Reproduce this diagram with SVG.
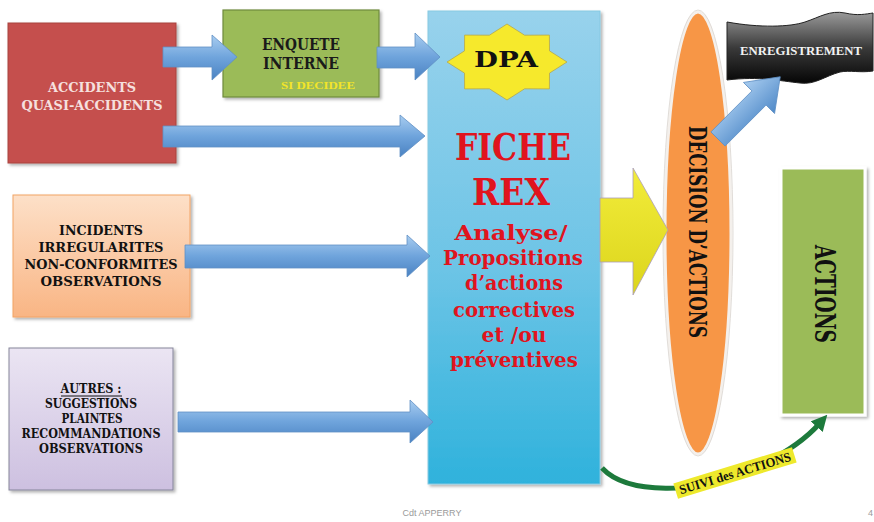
<svg xmlns="http://www.w3.org/2000/svg" width="874" height="522" viewBox="0 0 874 522">
<style>
.serif{font-family:"DejaVu Serif","Liberation Serif",serif;font-weight:bold;}
.tserif{font-family:"Liberation Serif","DejaVu Serif",serif;font-weight:bold;}
.c{text-anchor:middle;}
.barrow{fill:url(#gBlueArrow);stroke:#5f8fc4;stroke-width:0.8;}
.red{fill:#e0141e;}
</style>
<defs>
<linearGradient id="gBlueArrow" x1="0" y1="0" x2="0" y2="1">
<stop offset="0" stop-color="#a9cdf0"/>
<stop offset="0.5" stop-color="#6fa4dc"/>
<stop offset="1" stop-color="#4a82c2"/>
</linearGradient>
<linearGradient id="gBlueDiag" x1="0" y1="0" x2="0" y2="1">
<stop offset="0" stop-color="#a9cdf0"/>
<stop offset="1" stop-color="#4f89c8"/>
</linearGradient>
<linearGradient id="gFiche" x1="0" y1="0" x2="0" y2="1">
<stop offset="0" stop-color="#98d2ec"/>
<stop offset="0.55" stop-color="#6cc4e6"/>
<stop offset="1" stop-color="#2fb2dc"/>
</linearGradient>
<linearGradient id="gOrange" x1="0" y1="0" x2="0" y2="1">
<stop offset="0" stop-color="#fde0c8"/>
<stop offset="1" stop-color="#f9b584"/>
</linearGradient>
<linearGradient id="gPurple" x1="0" y1="0" x2="0" y2="1">
<stop offset="0" stop-color="#ebe5f3"/>
<stop offset="1" stop-color="#cdc0e0"/>
</linearGradient>
<linearGradient id="gYellow" x1="0" y1="0" x2="0" y2="1">
<stop offset="0" stop-color="#f2ec3a"/>
<stop offset="1" stop-color="#dcd51c"/>
</linearGradient>
<linearGradient id="gBanner" x1="0" y1="0" x2="0" y2="1">
<stop offset="0" stop-color="#9a9a9a"/>
<stop offset="0.5" stop-color="#3a3a3a"/>
<stop offset="1" stop-color="#050505"/>
</linearGradient>
<filter id="shadow" x="-10%" y="-10%" width="125%" height="125%">
<feDropShadow dx="2" dy="2" stdDeviation="1.5" flood-color="#000" flood-opacity="0.3"/>
</filter>
<marker id="greenHead" markerUnits="userSpaceOnUse" markerWidth="16" markerHeight="16" refX="5" refY="8" orient="auto">
<path d="M0,0 L16,8 L0,16 z" fill="#1d7a3c"/>
</marker>
</defs>

<rect width="874" height="522" fill="#ffffff"/>

<g id="fiche-rex">
<rect x="428" y="11" width="172" height="473" fill="url(#gFiche)" stroke="#86c9e2" stroke-width="1" filter="url(#shadow)"/>
<text class="serif c red" x="513" y="160" font-size="37" textLength="116" lengthAdjust="spacingAndGlyphs">FICHE</text>
<text class="serif c red" x="511" y="205" font-size="37" textLength="78" lengthAdjust="spacingAndGlyphs">REX</text>
<text class="serif c red" x="511" y="240" font-size="21" textLength="113" lengthAdjust="spacingAndGlyphs">Analyse/</text>
<text class="serif c red" x="513" y="265" font-size="21" textLength="140" lengthAdjust="spacingAndGlyphs">Propositions</text>
<text class="serif c red" x="514" y="290" font-size="21" textLength="98" lengthAdjust="spacingAndGlyphs">d’actions</text>
<text class="serif c red" x="514" y="317" font-size="21" textLength="122" lengthAdjust="spacingAndGlyphs">correctives</text>
<text class="serif c red" x="514" y="342" font-size="21" textLength="65" lengthAdjust="spacingAndGlyphs">et /ou</text>
<text class="serif c red" x="514" y="367" font-size="21" textLength="128" lengthAdjust="spacingAndGlyphs">préventives</text>
</g>

<g id="dpa">
<polygon points="567,62 549.5,73.1 549.4,88.9 524.6,88.8 507,100 489.4,88.8 464.6,88.9 464.5,73.1 447,62 464.5,50.9 464.6,35.1 489.4,35.2 507,24 524.6,35.2 549.4,35.1 549.5,50.9" fill="#f6e92c" stroke="#b8a84a" stroke-width="0.8"/>
<text class="serif c" x="506" y="67" font-size="23" fill="#111" textLength="64" lengthAdjust="spacingAndGlyphs">DPA</text>
</g>

<g id="accidents">
<rect x="8" y="23" width="168" height="140" fill="#c5504d" stroke="#a8423f" stroke-width="1" filter="url(#shadow)"/>
<text class="serif c" x="92" y="92" font-size="13.5" fill="#f6e0df" textLength="88" lengthAdjust="spacingAndGlyphs">ACCIDENTS</text>
<text class="serif c" x="92" y="110" font-size="13.5" fill="#f6e0df" textLength="141" lengthAdjust="spacingAndGlyphs">QUASI-ACCIDENTS</text>
</g>

<g id="enquete">
<rect x="223" y="10" width="156" height="87" fill="#9bbb59" stroke="#6f8a3c" stroke-width="1.2" filter="url(#shadow)"/>
<text class="serif c" x="301" y="50" font-size="16" fill="#1a1a1a" textLength="78" lengthAdjust="spacingAndGlyphs">ENQUETE</text>
<text class="serif c" x="301" y="69" font-size="16" fill="#1a1a1a" textLength="76" lengthAdjust="spacingAndGlyphs">INTERNE</text>
<text class="tserif c" x="318" y="89" font-size="11" fill="#f3e528" textLength="74" lengthAdjust="spacingAndGlyphs">SI DECIDEE</text>
</g>

<g id="incidents">
<rect x="13" y="195" width="177" height="122" fill="url(#gOrange)" stroke="#f2a365" stroke-width="1" filter="url(#shadow)"/>
<text class="serif c" x="101" y="235" font-size="13" fill="#111" textLength="84" lengthAdjust="spacingAndGlyphs">INCIDENTS</text>
<text class="serif c" x="101" y="252" font-size="13" fill="#111" textLength="125" lengthAdjust="spacingAndGlyphs">IRREGULARITES</text>
<text class="serif c" x="101" y="269" font-size="13" fill="#111" textLength="153" lengthAdjust="spacingAndGlyphs">NON-CONFORMITES</text>
<text class="serif c" x="101" y="286" font-size="13" fill="#111" textLength="121" lengthAdjust="spacingAndGlyphs">OBSERVATIONS</text>
</g>

<g id="autres">
<rect x="9" y="348" width="164" height="142" fill="url(#gPurple)" stroke="#85859a" stroke-width="1" filter="url(#shadow)"/>
<text class="serif c" x="91" y="393" font-size="12" fill="#111" textLength="61" lengthAdjust="spacingAndGlyphs">AUTRES :</text>
<line x1="61" y1="396" x2="122" y2="396" stroke="#111" stroke-width="1"/>
<text class="serif c" x="91" y="408" font-size="12" fill="#111" textLength="92" lengthAdjust="spacingAndGlyphs">SUGGESTIONS</text>
<text class="serif c" x="92" y="423" font-size="12" fill="#111" textLength="61" lengthAdjust="spacingAndGlyphs">PLAINTES</text>
<text class="serif c" x="91" y="438" font-size="12" fill="#111" textLength="139" lengthAdjust="spacingAndGlyphs">RECOMMANDATIONS</text>
<text class="serif c" x="91" y="453" font-size="12" fill="#111" textLength="104" lengthAdjust="spacingAndGlyphs">OBSERVATIONS</text>
</g>

<g id="decision">
<ellipse cx="698" cy="233" rx="33" ry="221" fill="#f79646" stroke="#f4f0ec" stroke-width="3"/>
<ellipse cx="698" cy="233" rx="35" ry="223" fill="none" stroke="#d9d4cf" stroke-width="0.8"/>
<text class="serif c" transform="translate(689,232) rotate(90)" x="0" y="0" font-size="25" fill="#111" textLength="212" lengthAdjust="spacingAndGlyphs">DECISION D’ACTIONS</text>
</g>

<g id="enregistrement">
<path d="M727,22 C760,28 790,27 805,22 C820,17 830,10 845,13 C858,16 866,14 873,13 L873,71 C860,73 850,70 840,72 C825,76 815,85 800,83 C780,81 760,76 727,80 Z" fill="url(#gBanner)" stroke="#222" stroke-width="1"/>
<text class="tserif c" x="801" y="55" font-size="12" fill="#f2f2f2" textLength="122" lengthAdjust="spacingAndGlyphs">ENREGISTREMENT</text>
</g>

<g id="actions">
<rect x="781" y="168" width="84" height="247" fill="#9bbb59" stroke="#ffffff" stroke-width="3" filter="url(#shadow)"/>
<text class="serif c" transform="translate(815,294) rotate(90)" x="0" y="0" font-size="27" fill="#111" textLength="98" lengthAdjust="spacingAndGlyphs">ACTIONS</text>
</g>

<g id="connectors">
<path class="barrow" d="M163,47 L212,47 L212,35 L237,57 L212,80 L212,67 L163,67 Z"/>
<path class="barrow" d="M377,47 L415,47 L415,33 L440,57 L415,80 L415,68 L377,68 Z"/>
<path class="barrow" d="M163,126 L400,126 L400,115 L425,136 L400,157 L400,147 L163,147 Z"/>
<path class="barrow" d="M185,245 L407,245 L407,235 L430,256 L407,277 L407,268 L185,268 Z"/>
<path class="barrow" d="M178,412 L410,412 L410,400 L433,422 L410,443 L410,432 L178,432 Z"/>
<path d="M600,198 L633,198 L633,168 L668,230 L633,295 L633,262 L600,262 Z" fill="url(#gYellow)" stroke="#a99dbb" stroke-width="0.8"/>
<path d="M0,-10 L58,-10 L58,-22 L88,0 L58,22 L58,10 L0,10 Z" transform="translate(718,139) rotate(-45)" fill="url(#gBlueDiag)" stroke="#5f8fc4" stroke-width="0.8"/>
<path d="M602,468 C628,496 700,492 740,474 C780,458 805,440 820,423" fill="none" stroke="#1d7a3c" stroke-width="5" marker-end="url(#greenHead)"/>
<g transform="translate(735,473) rotate(-17)">
<rect x="-62" y="-8" width="124" height="16" fill="#eee92c"/>
<text class="tserif c" x="0" y="4.5" font-size="13" fill="#111" textLength="116" lengthAdjust="spacingAndGlyphs">SUIVI des ACTIONS</text>
</g>
</g>

<text x="432" y="516" font-family="Liberation Sans, Arial, sans-serif" font-size="9" fill="#9a9a9a" text-anchor="middle">Cdt APPERRY</text>
<text x="868" y="516" font-family="Liberation Sans, Arial, sans-serif" font-size="9" fill="#9a9a9a">4</text>
</svg>
